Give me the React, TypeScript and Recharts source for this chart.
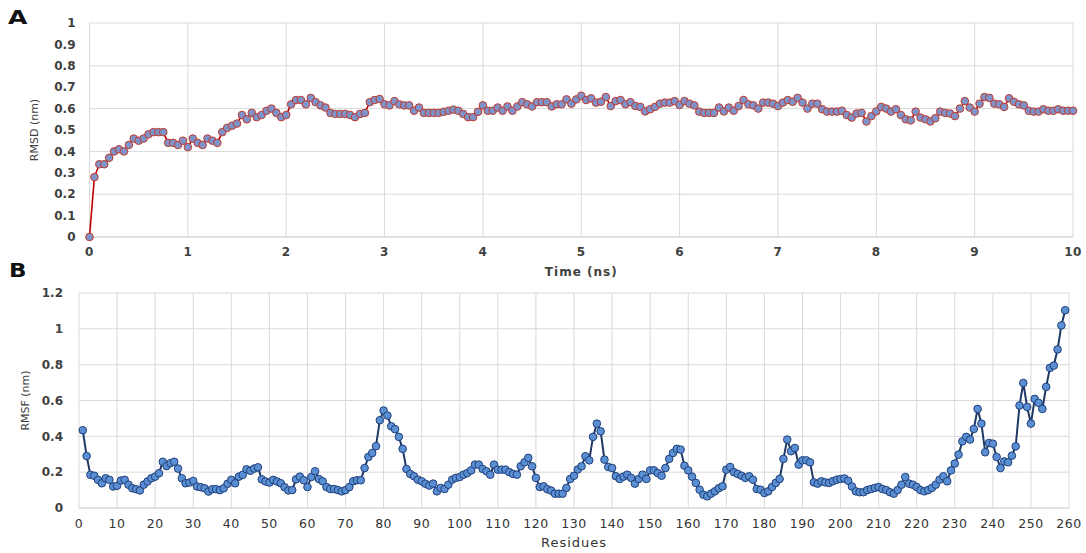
import React from 'react';
import { LineChart, Line, XAxis, YAxis, CartesianGrid } from 'recharts';

// Panel A: RMSD (nm) sampled every 0.05 ns from 0 to 10 ns
const rmsdStepNs = 0.05;
const rmsdValues: number[] = [
  0, 0.28, 0.34, 0.34, 0.37, 0.40, 0.41, 0.40, 0.43, 0.46, 0.45, 0.46, 0.48, 0.49, 0.49, 0.49, 0.44, 0.44, 0.43, 0.45,
  0.42, 0.46, 0.44, 0.43, 0.46, 0.45, 0.44, 0.49, 0.51, 0.52, 0.53, 0.57, 0.55, 0.58, 0.56, 0.57, 0.59, 0.60, 0.58, 0.56,
  0.57, 0.62, 0.64, 0.64, 0.62, 0.65, 0.63, 0.615, 0.605, 0.58, 0.575, 0.575, 0.575, 0.57, 0.56, 0.575, 0.58, 0.63, 0.64, 0.645,
  0.62, 0.615, 0.635, 0.62, 0.615, 0.615, 0.59, 0.605, 0.58, 0.58, 0.58, 0.58, 0.585, 0.59, 0.595, 0.59, 0.575, 0.56, 0.56, 0.585,
  0.615, 0.59, 0.59, 0.605, 0.59, 0.61, 0.59, 0.61, 0.63, 0.62, 0.61, 0.63, 0.63, 0.63, 0.61, 0.62, 0.62, 0.643, 0.623, 0.643,
  0.66, 0.64, 0.648, 0.628, 0.632, 0.654, 0.612, 0.635, 0.64, 0.62, 0.63, 0.612, 0.608, 0.587, 0.597, 0.608, 0.623, 0.628, 0.628, 0.635,
  0.617, 0.635, 0.623, 0.615, 0.586, 0.58, 0.58, 0.58, 0.605, 0.587, 0.605, 0.59, 0.612, 0.64, 0.62, 0.615, 0.60, 0.628, 0.628, 0.623,
  0.612, 0.628, 0.64, 0.632, 0.65, 0.628, 0.60, 0.623, 0.623, 0.597, 0.586, 0.586, 0.586, 0.59, 0.57, 0.558, 0.577, 0.58, 0.54, 0.565,
  0.587, 0.608, 0.60, 0.586, 0.597, 0.57, 0.55, 0.545, 0.586, 0.558, 0.55, 0.54, 0.555, 0.586, 0.58, 0.577, 0.565, 0.60, 0.635, 0.605,
  0.586, 0.623, 0.654, 0.65, 0.623, 0.62, 0.608, 0.648, 0.632, 0.62, 0.615, 0.59, 0.586, 0.586, 0.597, 0.59, 0.59, 0.597, 0.59, 0.59, 0.59,
];
const timeTicks = [0, 1, 2, 3, 4, 5, 6, 7, 8, 9, 10];
const rmsdTicks = [0, 0.1, 0.2, 0.3, 0.4, 0.5, 0.6, 0.7, 0.8, 0.9, 1];

// Panel B: RMSF (nm) per residue, residues 1..259
const rmsfValues: number[] = [
  0.434, 0.29, 0.185, 0.18, 0.157, 0.138, 0.166, 0.157, 0.12, 0.124,
  0.153, 0.157, 0.13, 0.11, 0.105, 0.098, 0.13, 0.148, 0.166, 0.175,
  0.194, 0.258, 0.234, 0.25, 0.258, 0.22, 0.166, 0.138, 0.142, 0.151,
  0.12, 0.116, 0.11, 0.092, 0.105, 0.105, 0.10, 0.11, 0.135, 0.157,
  0.138, 0.175, 0.185, 0.216, 0.208, 0.22, 0.227, 0.16, 0.148, 0.142,
  0.157, 0.148, 0.138, 0.116, 0.098, 0.10, 0.16, 0.175, 0.155, 0.117,
  0.173, 0.205, 0.162, 0.149, 0.117, 0.106, 0.106, 0.10, 0.093, 0.10,
  0.117, 0.149, 0.155, 0.155, 0.223, 0.285, 0.307, 0.345, 0.49, 0.544,
  0.516, 0.456, 0.44, 0.397, 0.33, 0.218, 0.19, 0.177, 0.158, 0.149,
  0.135, 0.125, 0.136, 0.093, 0.112, 0.106, 0.13, 0.158, 0.168, 0.173,
  0.186, 0.195, 0.21, 0.242, 0.242, 0.218, 0.205, 0.186, 0.242, 0.214,
  0.214, 0.214, 0.20, 0.19, 0.186, 0.233, 0.255, 0.28, 0.233, 0.168,
  0.117, 0.121, 0.105, 0.097, 0.08, 0.08, 0.08, 0.112, 0.162, 0.18,
  0.215, 0.233, 0.289, 0.266, 0.397, 0.471, 0.428, 0.27, 0.229, 0.223,
  0.177, 0.162, 0.175, 0.186, 0.168, 0.136, 0.162, 0.186, 0.162, 0.21,
  0.21, 0.195, 0.18, 0.223, 0.274, 0.307, 0.33, 0.326, 0.236, 0.21,
  0.175, 0.14, 0.102, 0.074, 0.065, 0.08, 0.093, 0.11, 0.121, 0.214,
  0.229, 0.20, 0.19, 0.18, 0.168, 0.177, 0.158, 0.106, 0.102, 0.084,
  0.093, 0.117, 0.14, 0.162, 0.274, 0.382, 0.317, 0.335, 0.242, 0.266,
  0.266, 0.255, 0.143, 0.136, 0.149, 0.143, 0.14, 0.15, 0.158, 0.162,
  0.165, 0.152, 0.12, 0.093, 0.088, 0.088, 0.10, 0.106, 0.112, 0.117,
  0.106, 0.10, 0.088, 0.08, 0.10, 0.13, 0.173, 0.136, 0.13, 0.117,
  0.10, 0.093, 0.10, 0.112, 0.13, 0.158, 0.177, 0.149, 0.21, 0.248,
  0.298, 0.372, 0.397, 0.382, 0.441, 0.553, 0.471, 0.311, 0.363, 0.359,
  0.285, 0.223, 0.26, 0.255, 0.292, 0.344, 0.572, 0.698, 0.564, 0.471,
  0.609, 0.587, 0.553, 0.676, 0.782, 0.795, 0.885, 1.019, 1.104,
];
const residueTicks = [0, 10, 20, 30, 40, 50, 60, 70, 80, 90, 100, 110, 120, 130, 140, 150, 160, 170, 180, 190, 200, 210, 220, 230, 240, 250, 260];
const rmsfTicks = [0, 0.2, 0.4, 0.6, 0.8, 1, 1.2];

const rmsdData = rmsdValues.map((v, i) => ({ t: Math.round(i * rmsdStepNs * 100) / 100, v }));
const rmsfData = rmsfValues.map((v, i) => ({ r: i + 1, v }));

const FONT = 'DejaVu Sans, sans-serif';
const GRID = '#d9d9d9';

export default function App() {
  return (
    <div style={{ position: 'fixed', left: 0, top: 0, width: 1086, height: 553, background: '#ffffff', fontFamily: FONT }}>
      <div style={{ position: 'absolute', left: 8, top: 7, fontSize: 20, fontWeight: 'bold', color: '#111', lineHeight: '20px', transform: 'scaleX(1.25)', transformOrigin: 'left top' }}>A</div>
      <div style={{ position: 'absolute', left: 9, top: 260, fontSize: 20, fontWeight: 'bold', color: '#111', lineHeight: '20px', transform: 'scaleX(1.15)', transformOrigin: 'left top' }}>B</div>

      <div style={{ position: 'absolute', left: 0, top: 0 }}>
        <LineChart width={1086} height={285} data={rmsdData} margin={{ top: 23, right: 13, bottom: 18, left: 0 }}>
          <CartesianGrid stroke={GRID} strokeWidth={1} />
          <XAxis
            dataKey="t"
            type="number"
            domain={[0, 10]}
            ticks={timeTicks}
            tickLine={false}
            axisLine={{ stroke: GRID }}
            tickMargin={4}
            tick={{ fontSize: 12, fontWeight: 'bold', fill: '#404040', fontFamily: FONT, letterSpacing: 0.5 }}
            label={{ value: 'Time (ns)', position: 'bottom', offset: 0, style: { fontSize: 12, fontWeight: 'bold', fill: '#404040', fontFamily: FONT, letterSpacing: 1 } }}
          />
          <YAxis
            type="number"
            domain={[0, 1]}
            ticks={rmsdTicks}
            width={89.5}
            tickLine={false}
            axisLine={false}
            tickMargin={8}
            tick={{ fontSize: 12, fontWeight: 'bold', fill: '#404040', fontFamily: FONT }}
            label={{ value: 'RMSD (nm)', angle: -90, position: 'insideLeft', offset: 34, style: { textAnchor: 'middle', fontSize: 11, fill: '#404040', fontFamily: FONT } }}
          />
          <Line
            type="linear"
            dataKey="v"
            stroke="#c00000"
            strokeWidth={1.6}
            dot={{ r: 3.8, fill: '#7f93cb', stroke: '#c0392b', strokeWidth: 1 }}
            activeDot={false}
            isAnimationActive={false}
          />
        </LineChart>
      </div>

      <div style={{ position: 'absolute', left: 0, top: 280 }}>
        <LineChart width={1086} height={273} data={rmsfData} margin={{ top: 13, right: 17, bottom: 15, left: 0 }}>
          <CartesianGrid stroke={GRID} strokeWidth={1} />
          <XAxis
            dataKey="r"
            type="number"
            domain={[0, 260]}
            ticks={residueTicks}
            tickLine={false}
            axisLine={{ stroke: GRID }}
            tickMargin={5}
            tick={{ fontSize: 12.5, fill: '#333333', fontFamily: FONT, letterSpacing: 0.5 }}
            label={{ value: 'Residues', position: 'bottom', offset: 0, style: { fontSize: 13, fill: '#333333', fontFamily: FONT, letterSpacing: 1 } }}
          />
          <YAxis
            type="number"
            domain={[0, 1.2]}
            ticks={rmsfTicks}
            width={79}
            tickLine={false}
            axisLine={false}
            tickMargin={10}
            tick={{ fontSize: 12, fontWeight: 'bold', fill: '#404040', fontFamily: FONT }}
            label={{ value: 'RMSF (nm)', angle: -90, position: 'insideLeft', offset: 25, style: { textAnchor: 'middle', fontSize: 11, fill: '#404040', fontFamily: FONT } }}
          />
          <Line
            type="linear"
            dataKey="v"
            stroke="#1f3864"
            strokeWidth={2}
            dot={{ r: 3.8, fill: '#5b8fd3', stroke: '#1f3f7a', strokeWidth: 1 }}
            activeDot={false}
            isAnimationActive={false}
          />
        </LineChart>
      </div>
    </div>
  );
}
